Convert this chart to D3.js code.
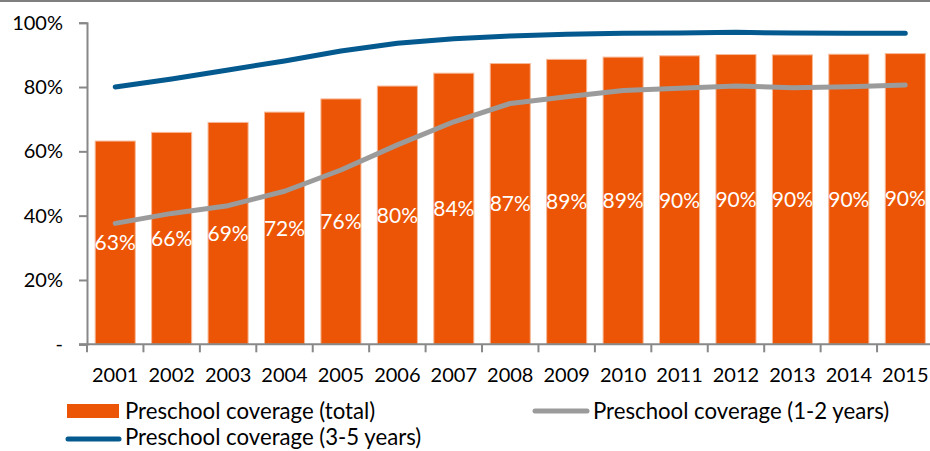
<!DOCTYPE html>
<html>
<head>
<meta charset="utf-8">
<script src="https://cdn.jsdelivr.net/npm/d3@7/dist/d3.min.js"></script>
<style>
  html, body { margin: 0; padding: 0; background: #fff; overflow: hidden; }
  svg { display: block; font-family: Lato, "Open Sans", sans-serif; }
</style>
</head>
<body>
<svg id="chart" width="930" height="451"></svg>
<script>
// Preschool coverage, 2001–2015
const years = ["2001","2002","2003","2004","2005","2006","2007","2008","2009","2010","2011","2012","2013","2014","2015"];
const coverageTotal = [0.632, 0.659, 0.690, 0.722, 0.763, 0.803, 0.843, 0.873, 0.886, 0.893, 0.897, 0.901, 0.900, 0.902, 0.904];
const coverage12 = [0.376, 0.407, 0.431, 0.476, 0.542, 0.620, 0.692, 0.749, 0.770, 0.789, 0.796, 0.803, 0.798, 0.801, 0.806];
const coverage35 = [0.800, 0.825, 0.853, 0.881, 0.912, 0.936, 0.950, 0.959, 0.964, 0.967, 0.968, 0.970, 0.968, 0.967, 0.967];
const yTicks = [0, 0.2, 0.4, 0.6, 0.8, 1.0];
const legendLabels = ["Preschool coverage (total)", "Preschool coverage (1-2 years)", "Preschool coverage (3-5 years)"];

const colors = { total: "#EC5505", y12: "#9B9B9B", y35: "#04598F", axis: "#888888" };

const svg = d3.select("#chart");

// frame line along the top edge
svg.append("rect").attr("x", 0).attr("y", 0).attr("width", 930).attr("height", 2).attr("fill", "#7F7F7F");

const x = d3.scaleBand().domain(years).range([87, 933.5]).padding(0);
const y = d3.scaleLinear().domain([0, 1]).range([344.3, 22.7]);
const barW = x.bandwidth() * 0.71;
const fmtPct = d3.format(".0%");

// bars
svg.append("g").selectAll("rect").data(years).join("rect")
  .attr("x", d => x(d) + (x.bandwidth() - barW) / 2)
  .attr("y", (d, i) => y(coverageTotal[i]))
  .attr("width", barW)
  .attr("height", (d, i) => y(0) - y(coverageTotal[i]))
  .attr("fill", colors.total)
  .attr("stroke", "#F7B997")
  .attr("stroke-width", 1);

// y axis
const yAxis = d3.axisLeft(y).tickValues(yTicks).tickSize(8).tickPadding(16)
  .tickFormat(d => d === 0 ? "-" : fmtPct(d));
const gy = svg.append("g").attr("transform", "translate(87,0)").call(yAxis);
gy.select(".domain").attr("stroke", colors.axis).attr("stroke-width", 2);
gy.selectAll(".tick line").attr("stroke", colors.axis).attr("stroke-width", 2);
gy.selectAll(".tick text").attr("font-size", 20).attr("fill", "#000").attr("font-family", "Lato, sans-serif");

// x axis with ticks at category boundaries
const gx = svg.append("g").attr("transform", `translate(0,${y(0)})`);
gx.append("line").attr("x1", 79).attr("x2", 933.5).attr("y1", 0).attr("y2", 0)
  .attr("stroke", colors.axis).attr("stroke-width", 2);
gx.selectAll("line.tk").data(years).join("line").attr("class", "tk")
  .attr("x1", d => x(d)).attr("x2", d => x(d)).attr("y1", 0).attr("y2", 8)
  .attr("stroke", colors.axis).attr("stroke-width", 2);
gx.selectAll("text").data(years).join("text")
  .attr("x", d => x(d) + x.bandwidth() / 2)
  .attr("y", 38)
  .attr("text-anchor", "middle")
  .attr("font-size", 20)
  .attr("fill", "#000")
  .text(d => d);

// lines
const line = vals => d3.line()
  .x((d, i) => x(years[i]) + x.bandwidth() / 2)
  .y(d => y(d))(vals);

svg.append("path").attr("d", line(coverage12))
  .attr("fill", "none").attr("stroke", colors.y12).attr("stroke-width", 5)
  .attr("stroke-linecap", "round").attr("stroke-linejoin", "round");
svg.append("path").attr("d", line(coverage35))
  .attr("fill", "none").attr("stroke", colors.y35).attr("stroke-width", 5)
  .attr("stroke-linecap", "round").attr("stroke-linejoin", "round");

// value labels in the middle of each bar
svg.append("g").selectAll("text").data(years).join("text")
  .attr("x", d => x(d) + x.bandwidth() / 2)
  .attr("y", (d, i) => (y(coverageTotal[i]) + y(0)) / 2)
  .attr("dy", "0.36em")
  .attr("text-anchor", "middle")
  .attr("font-size", 21)
  .attr("fill", "#fff")
  .text((d, i) => fmtPct(coverageTotal[i]));

// legend
const lg = svg.append("g").attr("font-size", 22.2);
lg.append("rect").attr("x", 67).attr("y", 404).attr("width", 52).attr("height", 14).attr("fill", colors.total);
lg.append("text").attr("x", 125).attr("y", 411).attr("dy", "0.35em").text(legendLabels[0]);
lg.append("line").attr("x1", 535).attr("x2", 587).attr("y1", 411).attr("y2", 411)
  .attr("stroke", colors.y12).attr("stroke-width", 5).attr("stroke-linecap", "round");
lg.append("text").attr("x", 593).attr("y", 411).attr("dy", "0.35em").text(legendLabels[1]);
lg.append("line").attr("x1", 68).attr("x2", 119).attr("y1", 439).attr("y2", 439)
  .attr("stroke", colors.y35).attr("stroke-width", 5).attr("stroke-linecap", "round");
lg.append("text").attr("x", 125).attr("y", 437.5).attr("dy", "0.35em").text(legendLabels[2]);
</script>
</body>
</html>
